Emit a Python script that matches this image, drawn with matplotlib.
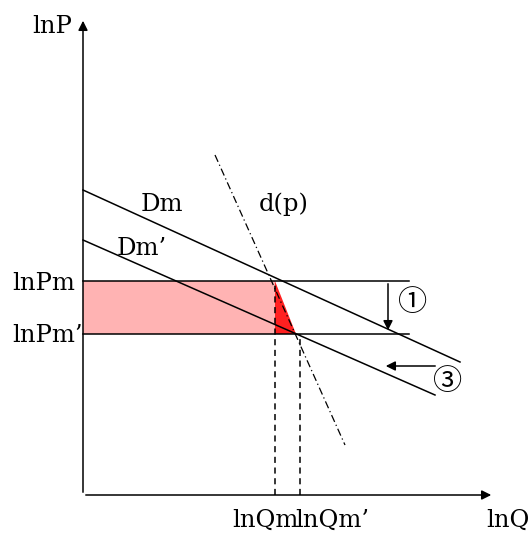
import matplotlib.pyplot as plt
import matplotlib.patches as mpatches

# schematic coordinates (origin at the axes corner)
axis_end = [411, 477]           # x-arrow tip, y-arrow tip
Dm_x = [0, 377]
Dm_y = [305, 133]
Dm2_x = [0, 352]
Dm2_y = [255, 100]
dp_x = [132, 262]
dp_y = [340, 50]
P_levels = [214, 161]           # lnPm, lnPm'
P_line_end = 326
Q_levels = [192, 217]           # lnQm, lnQm'
tri_apex = 213
P_labels = ["lnPm", "lnPm\u2019"]
Q_labels = ["lnQm", "lnQm\u2019"]

SERIF = ["DejaVu Serif"]
CIRC = ["Noto Sans CJK JP", "DejaVu Sans"]

fig = plt.figure(figsize=(5.31, 5.38), dpi=100)
ax = fig.add_axes([0, 0, 1, 1])
ax.set_xlim(-83, 448)
ax.set_ylim(-43, 495)
ax.axis("off")

lw = 1.1
arrow = dict(arrowstyle="-|>", color="black", lw=lw, mutation_scale=14)
# axes arrows
ax.annotate("", xy=(axis_end[0], 0), xytext=(0, 0), arrowprops=arrow)
ax.annotate("", xy=(0, axis_end[1]), xytext=(0, 0), arrowprops=arrow)

# shaded areas
ax.add_patch(mpatches.Rectangle((0, P_levels[1]), Q_levels[0], P_levels[0] - P_levels[1],
                                facecolor="#ffb3b3", edgecolor="none", zorder=1))
ax.add_patch(mpatches.Polygon([(Q_levels[0], P_levels[0]), (Q_levels[0], P_levels[1]),
                               (tri_apex, P_levels[1])],
                              facecolor="#ff2020", edgecolor="none", zorder=1))

# price levels
for p in P_levels:
    ax.plot([0, P_line_end], [p, p], color="black", lw=lw, zorder=2)

# demand curves
ax.plot(Dm_x, Dm_y, color="black", lw=lw, zorder=2)
ax.plot(Dm2_x, Dm2_y, color="black", lw=lw, zorder=2)
ax.plot(dp_x, dp_y, color="black", lw=0.9, linestyle=(0, (6, 2.5, 1, 2.5)), zorder=2)

# dashed verticals
for q, p in zip(Q_levels, P_levels):
    ax.plot([q, q], [0, p], color="black", lw=lw, linestyle=(0, (4, 3)), zorder=2)

# shift arrows
ax.annotate("", xy=(305, P_levels[1] + 1), xytext=(305, P_levels[0]), arrowprops=arrow)
ax.annotate("", xy=(300, 129), xytext=(355, 129), arrowprops=arrow)
ax.text(330, 192, "\u2460", family=CIRC, fontsize=21, ha="center", va="center")
ax.text(365, 113, "\u2462", family=CIRC, fontsize=21, ha="center", va="center")

# labels
fs = 17.5
ax.text(-11, 462, "lnP", family=SERIF, fontsize=fs, ha="right", va="baseline")
ax.text(403, -32, "lnQ", family=SERIF, fontsize=fs, ha="left", va="baseline")
ax.text(79, 284, "Dm", family=SERIF, fontsize=fs, ha="center", va="baseline")
ax.text(201, 284, "d(p)", family=SERIF, fontsize=fs, ha="center", va="baseline")
ax.text(59, 240, "Dm\u2019", family=SERIF, fontsize=fs, ha="center", va="baseline")
ax.text(-71, 205, P_labels[0], family=SERIF, fontsize=fs, ha="left", va="baseline")
ax.text(-71, 153, P_labels[1], family=SERIF, fontsize=fs, ha="left", va="baseline")
ax.text(149, -32, Q_labels[0], family=SERIF, fontsize=fs, ha="left", va="baseline")
ax.text(212, -32, Q_labels[1], family=SERIF, fontsize=fs, ha="left", va="baseline")

fig.savefig("out.png", dpi=100)
